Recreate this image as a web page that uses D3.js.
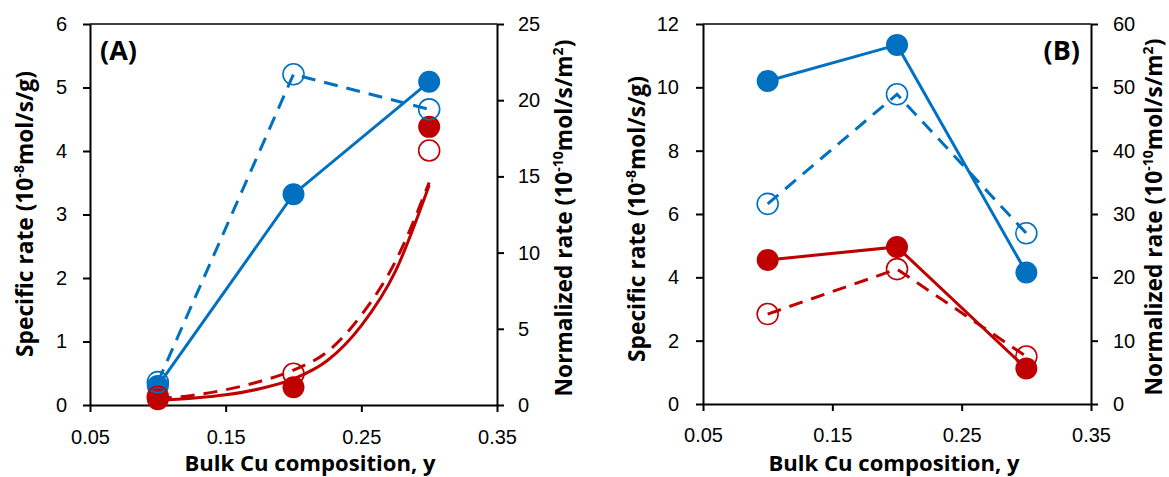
<!DOCTYPE html>
<html>
<head>
<meta charset="utf-8">
<script src="https://cdn.jsdelivr.net/npm/d3@7"></script>
<style>
  body { margin: 0; background: #fff; }
  svg { display: block; font-family: "Open Sans", sans-serif; }
  .tick text { font-size: 20px; fill: #000; }
  .tick line { stroke: #000; stroke-width: 2; }
  .domain { stroke: #000; stroke-width: 2; }
  .ttl { font-size: 20px; font-weight: bold; }
  .lbl { font-size: 27px; font-weight: bold; }
</style>
</head>
<body>
<svg id="chart" width="1169" height="477"></svg>
<script>
// bulk Cu composition
var comp = [0.1, 0.2, 0.3];
var xTicks = [0.05, 0.15, 0.25, 0.35];

// panel A: filled = specific rate (left), open = normalized rate (right)
var specA_blue = [0.30, 3.32, 5.09];
var normA_blue = [1.5, 21.7, 19.4];
var specA_red = [0.09, 0.28, 4.38];
var normA_red = [0.54, 2.05, 16.7];
var leftTicksA = [0, 1, 2, 3, 4, 5, 6];
var rightTicksA = [0, 5, 10, 15, 20, 25];

// panel A red curves
var curveX = [0.10, 0.125, 0.15, 0.175, 0.20, 0.225, 0.25, 0.275, 0.30];
var curveA_spec = [0.07, 0.105, 0.16, 0.255, 0.41, 0.70, 1.25, 2.10, 3.46];
var curveA_norm = [0.42, 0.63, 1.0, 1.54, 2.29, 3.5, 5.9, 9.4, 14.6];

// panel B
var specB_blue = [10.2, 11.34, 4.15];
var normB_blue = [31.6, 48.9, 26.95];
var specB_red = [4.55, 4.96, 1.12];
var normB_red = [14.2, 21.3, 7.5];
var leftTicksB = [0, 2, 4, 6, 8, 10, 12];
var rightTicksB = [0, 10, 20, 30, 40, 50, 60];

var BLUE = "#0070C0", RED = "#C00000";

var svg = d3.select("#chart");
svg.append("rect").attr("width", 1169).attr("height", 477).attr("fill", "#fff");

// scale a text's font so that it spans the given width
function fitWidth(sel, target) {
    var w = sel.node().getComputedTextLength();
    var fs = parseFloat(window.getComputedStyle(sel.node()).fontSize);
    sel.style("font-size", (fs * target / w) + "px");
}

function drawPanel(p) {
    var x = d3.scaleLinear().domain([0.05, 0.35]).range([p.left, p.right]);
    var yL = d3.scaleLinear().domain([0, p.leftTicks[p.leftTicks.length - 1]]).range([p.bottom, p.top]);
    var yR = d3.scaleLinear().domain([0, p.rightTicks[p.rightTicks.length - 1]]).range([p.bottom, p.top]);
    var g = svg.append("g");

    // top frame line
    g.append("line")
        .attr("x1", p.left).attr("x2", p.right)
        .attr("y1", p.top).attr("y2", p.top)
        .attr("stroke", "#000").attr("stroke-width", 1.5);

    g.append("g")
        .attr("transform", "translate(0," + p.bottom + ")")
        .call(d3.axisBottom(x).tickValues(xTicks).tickFormat(d3.format(".2f"))
            .tickSizeInner(7).tickSizeOuter(0).tickPadding(p.xPad));
    g.append("g")
        .attr("transform", "translate(" + p.left + ",0)")
        .call(d3.axisLeft(yL).tickValues(p.leftTicks).tickFormat(d3.format("d"))
            .tickSizeInner(7).tickSizeOuter(0).tickPadding(p.lPad));
    g.append("g")
        .attr("transform", "translate(" + p.right + ",0)")
        .call(d3.axisRight(yR).tickValues(p.rightTicks).tickFormat(d3.format("d"))
            .tickSizeInner(7).tickSizeOuter(0).tickPadding(p.rPad));

    var plot = g.append("g");

    p.series.forEach(function(s) {
        var y = s.axis === "left" ? yL : yR;
        var xs = s.curveX || comp;
        var line = d3.line()
            .x(function(d, i) { return x(xs[i]); })
            .y(function(d) { return y(d); })
            .curve(s.curveX ? d3.curveMonotoneX : d3.curveLinear);
        plot.append("path")
            .attr("d", line(s.curve || s.values))
            .attr("fill", "none").attr("stroke", s.color).attr("stroke-width", 3)
            .attr("stroke-dasharray", s.open ? "14,9" : null);
    });

    p.series.forEach(function(s) {
        var y = s.axis === "left" ? yL : yR;
        plot.selectAll(null)
            .data(s.values)
          .enter().append("circle")
            .attr("cx", function(d, i) { return x(comp[i]); })
            .attr("cy", function(d) { return y(d); })
            .attr("r", s.open ? 10.5 : 11)
            .attr("fill", s.open ? "none" : s.color)
            .attr("stroke", s.color)
            .attr("stroke-width", s.open ? 1.6 : 0);
    });

    // axis titles
    var xt = g.append("text").attr("class", "ttl")
        .attr("x", p.xTitle[0]).attr("y", p.xTitle[1])
        .attr("text-anchor", "middle")
        .text("Bulk Cu composition, y");
    fitWidth(xt, 251);

    var lt = g.append("text").attr("class", "ttl")
        .attr("transform", "translate(" + p.lTitle[0] + "," + p.lTitle[1] + ") rotate(-90)")
        .attr("text-anchor", "middle");
    lt.append("tspan").text("Specific rate (10");
    lt.append("tspan").style("font-size", "0.62em").attr("dy", "-0.62em").text("-8");
    lt.append("tspan").attr("dy", "0.385em").text("mol/s/g)");
    fitWidth(lt, 286);

    var rt = g.append("text").attr("class", "ttl")
        .attr("transform", "translate(" + p.rTitle[0] + "," + p.rTitle[1] + ") rotate(-90)")
        .attr("text-anchor", "middle");
    rt.append("tspan").text("Normalized rate (10");
    rt.append("tspan").style("font-size", "0.62em").attr("dy", "-0.62em").text("-10");
    rt.append("tspan").attr("dy", "0.385em").text("mol/s/m");
    rt.append("tspan").style("font-size", "0.62em").attr("dy", "-0.62em").text("2");
    rt.append("tspan").attr("dy", "0.385em").text(")");
    fitWidth(rt, 357);

    g.append("text").attr("class", "lbl")
        .attr("x", p.label[0]).attr("y", p.label[1])
        .attr("text-anchor", p.label[2])
        .text(p.label[3]);
}

drawPanel({
    left: 90, right: 497, top: 24, bottom: 405,
    leftTicks: leftTicksA, rightTicks: rightTicksA,
    xPad: 18, lPad: 16, rPad: 14,
    xTitle: [310, 471], lTitle: [33, 214], rTitle: [572, 218],
    label: [100, 60, "start", "(A)"],
    series: [
        { values: specA_blue, axis: "left", color: BLUE, open: false },
        { values: specA_red, curve: curveA_spec, curveX: curveX, axis: "left", color: RED, open: false },
        { values: normA_blue, axis: "right", color: BLUE, open: true },
        { values: normA_red, curve: curveA_norm, curveX: curveX, axis: "right", color: RED, open: true }
    ]
});

drawPanel({
    left: 703, right: 1091, top: 24, bottom: 404,
    leftTicks: leftTicksB, rightTicks: rightTicksB,
    xPad: 17, lPad: 17, rPad: 15,
    xTitle: [894, 471], lTitle: [645, 219], rTitle: [1162, 217],
    label: [1080, 60, "end", "(B)"],
    series: [
        { values: normB_blue, axis: "right", color: BLUE, open: true },
        { values: normB_red, axis: "right", color: RED, open: true },
        { values: specB_blue, axis: "left", color: BLUE, open: false },
        { values: specB_red, axis: "left", color: RED, open: false }
    ]
});
</script>
</body>
</html>
